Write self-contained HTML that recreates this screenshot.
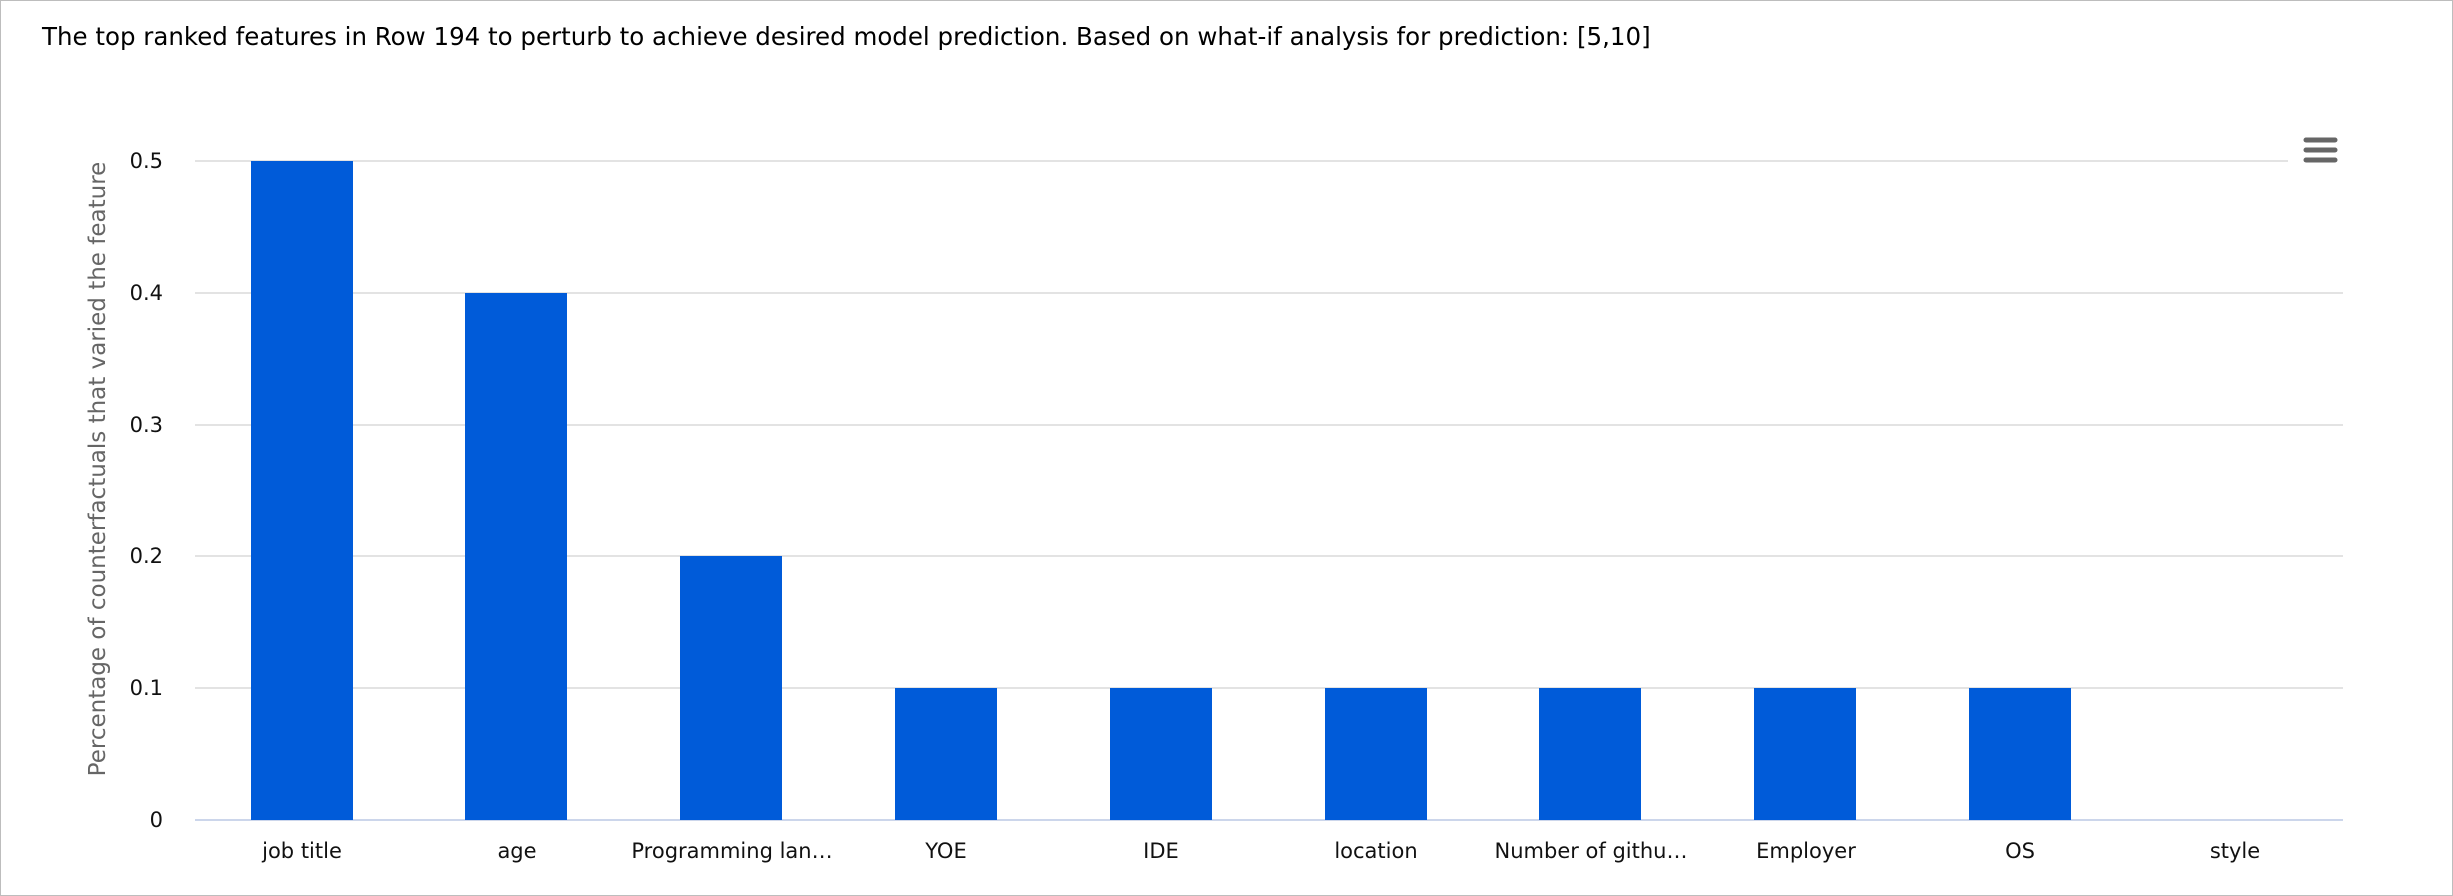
<!DOCTYPE html>
<html><head><meta charset="utf-8"><style>
html,body{margin:0;padding:0;background:#fff;}
body{width:2453px;height:896px;overflow:hidden;}
svg{display:block;}
text{font-family:"DejaVu Sans","Liberation Sans",sans-serif;}
</style></head><body>
<svg width="2453" height="896" viewBox="0 0 2453 896" xmlns="http://www.w3.org/2000/svg">
<rect x="0.5" y="0.5" width="2452" height="895" fill="#fff" stroke="#bdbdbd"/>
<text x="42" y="45" font-size="24.5" fill="#000" font-family="Liberation Sans, sans-serif">The top ranked features in Row 194 to perturb to achieve desired model prediction. Based on what-if analysis for prediction: [5,10]</text>
<g stroke="#e3e3e3" stroke-width="2">
<line x1="195" y1="161" x2="2288" y2="161"/>
<line x1="195" y1="293" x2="2343" y2="293"/>
<line x1="195" y1="425" x2="2343" y2="425"/>
<line x1="195" y1="556" x2="2343" y2="556"/>
<line x1="195" y1="688" x2="2343" y2="688"/>
</g>
<line x1="195" y1="820" x2="2343" y2="820" stroke="#ccd6eb" stroke-width="2"/>
<g font-size="21" fill="#111" text-anchor="end">
<text x="163" y="168">0.5</text><text x="163" y="300">0.4</text><text x="163" y="432">0.3</text><text x="163" y="563">0.2</text><text x="163" y="695">0.1</text><text x="163" y="827">0</text>
</g>
<text transform="translate(105,469) rotate(-90)" font-size="23" fill="#666" text-anchor="middle">Percentage of counterfactuals that varied the feature</text>
<g fill="#005bd9">
<rect x="251" y="161" width="102" height="659"/>
<rect x="465" y="293" width="102" height="527"/>
<rect x="680" y="556" width="102" height="264"/>
<rect x="895" y="688" width="102" height="132"/>
<rect x="1110" y="688" width="102" height="132"/>
<rect x="1325" y="688" width="102" height="132"/>
<rect x="1539" y="688" width="102" height="132"/>
<rect x="1754" y="688" width="102" height="132"/>
<rect x="1969" y="688" width="102" height="132"/>
</g>
<g font-size="21" fill="#111" text-anchor="middle">
<text x="302" y="858">job title</text>
<text x="517" y="858">age</text>
<text x="732" y="858">Programming lan…</text>
<text x="946" y="858">YOE</text>
<text x="1161" y="858">IDE</text>
<text x="1376" y="858">location</text>
<text x="1591" y="858">Number of githu…</text>
<text x="1806" y="858">Employer</text>
<text x="2020" y="858">OS</text>
<text x="2235" y="858">style</text>
</g>
<g stroke="#666" stroke-width="5" stroke-linecap="round">
<line x1="2306" y1="140" x2="2335" y2="140"/>
<line x1="2306" y1="150" x2="2335" y2="150"/>
<line x1="2306" y1="160" x2="2335" y2="160"/>
</g>
</svg>
</body></html>
